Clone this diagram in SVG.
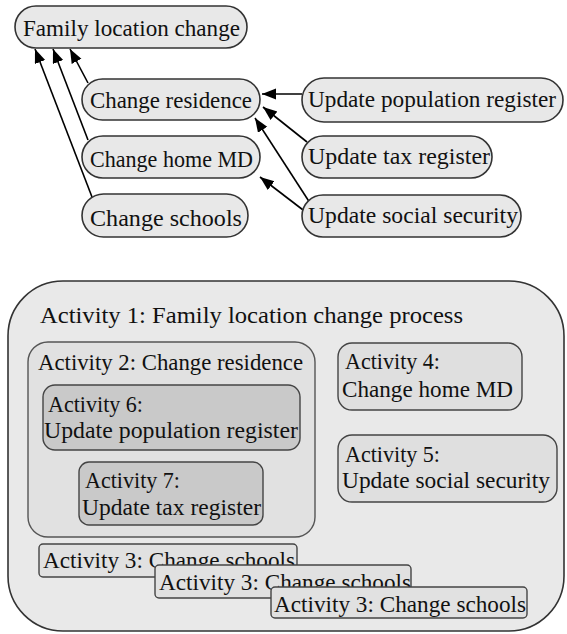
<svg xmlns="http://www.w3.org/2000/svg" width="567" height="634" viewBox="0 0 567 634">
<style>
text{font-family:"Liberation Serif","Times New Roman",serif;font-size:23px;fill:#111}
.node{fill:#e8e8e8;stroke:#333;stroke-width:1.6}
.outer{fill:#e9e9e9;stroke:#333;stroke-width:1.6}
.a2{fill:#e1e1e1;stroke:#555;stroke-width:1.4}
.dark{fill:#c9c9c9;stroke:#444;stroke-width:1.4}
.mid{fill:#dfdfdf;stroke:#444;stroke-width:1.4}
.a3{fill:#e1e1e1;stroke:#444;stroke-width:1.4}
.edge{stroke:#000;stroke-width:1.6;fill:none;marker-end:url(#arr)}
</style>
<defs>
<marker id="arr" markerUnits="userSpaceOnUse" markerWidth="15" markerHeight="12" refX="14" refY="5.5" orient="auto">
<path d="M0,0 L14,5.5 L0,11 z" fill="#000"/>
</marker>
</defs>

<g id="connectors">
<line class="edge" x1="92" y1="197" x2="35" y2="49"/>
<line class="edge" x1="88" y1="140" x2="53" y2="49"/>
<line class="edge" x1="88" y1="83" x2="70" y2="49"/>
<line class="edge" x1="302" y1="94" x2="262" y2="94"/>
<line class="edge" x1="307" y1="142" x2="263" y2="107"/>
<line class="edge" x1="310" y1="203" x2="255" y2="118"/>
<line class="edge" x1="307" y1="213" x2="260" y2="177"/>
</g>

<g id="family-location-change">
<rect class="node" x="15" y="6" width="232" height="42" rx="21"/>
<text x="23" y="36" textLength="217" lengthAdjust="spacingAndGlyphs">Family location change</text>
</g>
<g id="change-residence">
<rect class="node" x="82" y="79" width="178" height="41" rx="20.5"/>
<text x="90" y="108" textLength="162" lengthAdjust="spacingAndGlyphs">Change residence</text>
</g>
<g id="change-home-md">
<rect class="node" x="82" y="136" width="178" height="42" rx="21"/>
<text x="90" y="167" textLength="163" lengthAdjust="spacingAndGlyphs">Change home MD</text>
</g>
<g id="change-schools">
<rect class="node" x="82" y="194" width="166" height="43" rx="21.5"/>
<text x="90" y="226" textLength="152" lengthAdjust="spacingAndGlyphs">Change schools</text>
</g>
<g id="update-population-register">
<rect class="node" x="302" y="78" width="261" height="44" rx="22"/>
<text x="308" y="107" textLength="248" lengthAdjust="spacingAndGlyphs">Update population register</text>
</g>
<g id="update-tax-register">
<rect class="node" x="302" y="136" width="190" height="42" rx="21"/>
<text x="308" y="164" textLength="182" lengthAdjust="spacingAndGlyphs">Update tax register</text>
</g>
<g id="update-social-security">
<rect class="node" x="302" y="195" width="219" height="42" rx="21"/>
<text x="308" y="223" textLength="210" lengthAdjust="spacingAndGlyphs">Update social security</text>
</g>

<g id="activity-1">
<rect class="outer" x="8" y="281" width="556" height="350" rx="55"/>
<text x="40" y="323" textLength="423" lengthAdjust="spacingAndGlyphs">Activity 1: Family location change process</text>
</g>
<g id="activity-2">
<rect class="a2" x="28" y="342" width="287" height="195" rx="20"/>
<text x="38" y="370" textLength="265" lengthAdjust="spacingAndGlyphs">Activity 2: Change residence</text>
</g>
<g id="activity-6">
<rect class="dark" x="43" y="385" width="257" height="65" rx="12"/>
<text x="48" y="412" textLength="95" lengthAdjust="spacingAndGlyphs">Activity 6:</text>
<text x="44" y="438" textLength="254" lengthAdjust="spacingAndGlyphs">Update population register</text>
</g>
<g id="activity-7">
<rect class="dark" x="79" y="462" width="184" height="63" rx="10"/>
<text x="85" y="488" textLength="95" lengthAdjust="spacingAndGlyphs">Activity 7:</text>
<text x="82" y="515" textLength="179" lengthAdjust="spacingAndGlyphs">Update tax register</text>
</g>
<g id="activity-4">
<rect class="mid" x="338" y="343" width="184" height="67" rx="14"/>
<text x="345" y="369" textLength="95" lengthAdjust="spacingAndGlyphs">Activity 4:</text>
<text x="342" y="397" textLength="171" lengthAdjust="spacingAndGlyphs">Change home MD</text>
</g>
<g id="activity-5">
<rect class="mid" x="338" y="435" width="219" height="67" rx="14"/>
<text x="345" y="462" textLength="95" lengthAdjust="spacingAndGlyphs">Activity 5:</text>
<text x="342" y="488" textLength="208" lengthAdjust="spacingAndGlyphs">Update social security</text>
</g>
<g id="activity-3a">
<rect class="a3" x="39" y="544" width="258" height="33" rx="4"/>
<text x="43" y="568" textLength="252" lengthAdjust="spacingAndGlyphs">Activity 3: Change schools</text>
</g>
<g id="activity-3b">
<rect class="a3" x="155" y="565" width="256" height="33" rx="4"/>
<text x="159" y="590" textLength="252" lengthAdjust="spacingAndGlyphs">Activity 3: Change schools</text>
</g>
<g id="activity-3c">
<rect class="a3" x="271" y="587" width="256" height="31" rx="4"/>
<text x="274" y="612" textLength="252" lengthAdjust="spacingAndGlyphs">Activity 3: Change schools</text>
</g>
</svg>
